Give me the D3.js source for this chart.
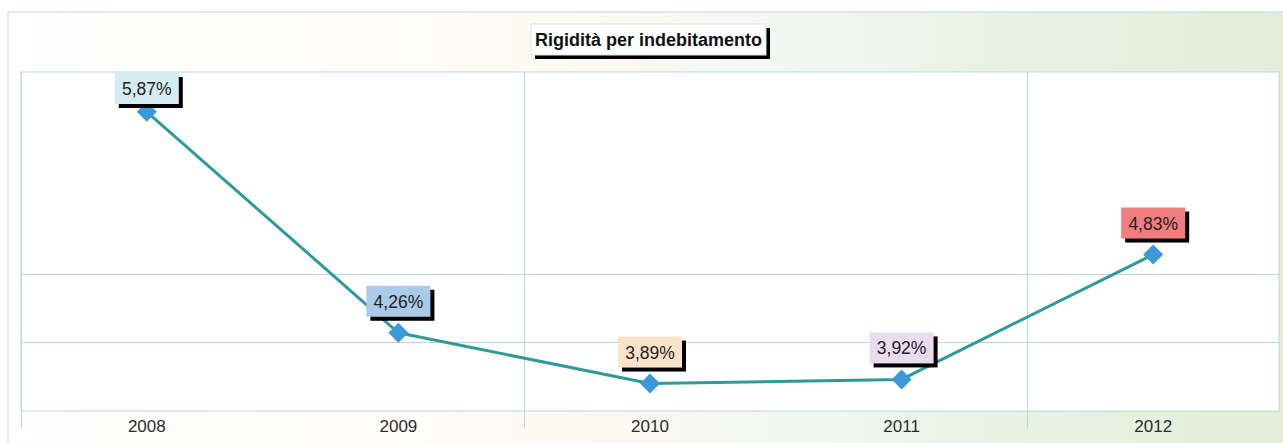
<!DOCTYPE html>
<html>
<head>
<meta charset="utf-8">
<script src="https://cdn.jsdelivr.net/npm/d3@7"></script>
<style>
    html, body { margin: 0; padding: 0; background: #fff; }
    svg { display: block; font-family: Arial, "Liberation Sans", sans-serif; }
</style>
</head>
<body>
<div id="chart"></div>
<script>
const TITLE = "Rigidità per indebitamento";
const years = ["2008", "2009", "2010", "2011", "2012"];
const values = [5.87, 4.26, 3.89, 3.92, 4.83];
const labelColors = ["#d4ebf2", "#a9cbe9", "#fbe2cb", "#e9dcee", "#f07e7e"];
const yDomain = [3.69, 6.16];
const yGrid = [4.19, 4.69];
const xGrid = ["2008", "2010", "2012"];

const width = 1283, height = 443;
const margin = {top: 72, right: 4, bottom: 32, left: 21};

const itFormat = d3.formatLocale({decimal: ",", thousands: ".", grouping: [3], currency: ["", "€"]});
const pct = itFormat.format(".2f");

const svg = d3.select("#chart").append("svg")
    .attr("width", width)
    .attr("height", height);

// background gradient of the outer frame
const defs = svg.append("defs");
const grad = defs.append("linearGradient").attr("id", "bg").attr("x1", "0%").attr("x2", "100%");
[["0%", "#ffffff"], ["28%", "#fffdfa"], ["45%", "#fdf9f0"], ["62%", "#f2f7f4"], ["78%", "#e8f2e2"], ["100%", "#e2eed8"]]
    .forEach(function(s) { grad.append("stop").attr("offset", s[0]).attr("stop-color", s[1]); });

svg.append("rect")
    .attr("x", 8).attr("y", 12)
    .attr("width", width).attr("height", height)
    .attr("fill", "url(#bg)")
    .attr("stroke", "#c6d6df");

const x = d3.scaleBand().domain(years).range([margin.left, width - margin.right]).padding(0);
const y = d3.scaleLinear().domain(yDomain).range([height - margin.bottom, margin.top]);

const gridColor = "#bcd5e6";

// plot area
svg.append("rect")
    .attr("x", x.range()[0]).attr("y", y.range()[1])
    .attr("width", x.range()[1] - x.range()[0])
    .attr("height", y.range()[0] - y.range()[1])
    .attr("fill", "#fff")
    .attr("stroke", gridColor);

svg.append("g").selectAll("line")
    .data(yGrid)
    .join("line")
    .attr("x1", x.range()[0]).attr("x2", x.range()[1])
    .attr("y1", function(d) { return Math.round(y(d)) + 0.5; })
    .attr("y2", function(d) { return Math.round(y(d)) + 0.5; })
    .attr("stroke", gridColor);

// vertical grid lines continue below the plot as ticks
svg.append("g").selectAll("line")
    .data(xGrid)
    .join("line")
    .attr("x1", function(d) { return Math.round(x(d)) + 0.5; })
    .attr("x2", function(d) { return Math.round(x(d)) + 0.5; })
    .attr("y1", y.range()[1])
    .attr("y2", y.range()[0] + 17)
    .attr("stroke", gridColor);

// x axis labels
const xAxis = d3.axisBottom(x).tickSize(0).tickPadding(0);
const axisG = svg.append("g")
    .attr("transform", "translate(0," + y.range()[0] + ")")
    .call(xAxis);
axisG.select(".domain").remove();
axisG.selectAll("text")
    .attr("dy", null)
    .attr("y", 21)
    .attr("font-size", 17)
    .attr("font-family", "Arial, 'Liberation Sans', sans-serif")
    .attr("fill", "#2b2b2b");

// title
const titleG = svg.append("g");
titleG.append("rect")
    .attr("x", 535).attr("y", 28).attr("width", 235).attr("height", 31)
    .attr("fill", "#000");
titleG.append("rect")
    .attr("x", 531).attr("y", 24).attr("width", 235).attr("height", 31)
    .attr("fill", "#fff")
    .attr("stroke", "#d8e4ea");
titleG.append("text")
    .attr("x", 648.5).attr("y", 46)
    .attr("text-anchor", "middle")
    .attr("font-size", 18)
    .attr("font-weight", "bold")
    .attr("fill", "#111")
    .text(TITLE);

const data = years.map(function(yr, i) {
    return {year: yr, value: values[i], color: labelColors[i]};
});

// line
const line = d3.line()
    .x(function(d) { return x(d.year) + x.bandwidth() / 2; })
    .y(function(d) { return y(d.value); });

svg.append("path")
    .datum(data)
    .attr("d", line)
    .attr("fill", "none")
    .attr("stroke", "#2f9a9b")
    .attr("stroke-width", 3);

// diamond markers
const diamond = d3.symbol().type(d3.symbolSquare).size(200);
svg.append("g").selectAll("path")
    .data(data)
    .join("path")
    .attr("d", diamond)
    .attr("transform", function(d) {
        return "translate(" + (x(d.year) + x.bandwidth() / 2) + "," + y(d.value) + ") rotate(45)";
    })
    .attr("fill", "#3b99d8");

// data labels
const boxW = 64, boxH = 31;
const labels = svg.append("g").selectAll("g")
    .data(data)
    .join("g")
    .attr("transform", function(d) {
        var cx = x(d.year) + x.bandwidth() / 2;
        var top = Math.max(y(d.value) - 16 - boxH, y.range()[1] + 1);
        return "translate(" + (cx - boxW / 2) + "," + top + ")";
    });

labels.append("rect")
    .attr("x", 4).attr("y", 4)
    .attr("width", boxW).attr("height", boxH)
    .attr("fill", "#000");
labels.append("rect")
    .attr("width", boxW).attr("height", boxH)
    .attr("fill", function(d) { return d.color; });
labels.append("text")
    .attr("x", boxW / 2).attr("y", 22)
    .attr("text-anchor", "middle")
    .attr("font-size", 17.5)
    .attr("fill", "#222")
    .text(function(d) { return pct(d.value) + "%"; });
</script>
</body>
</html>
